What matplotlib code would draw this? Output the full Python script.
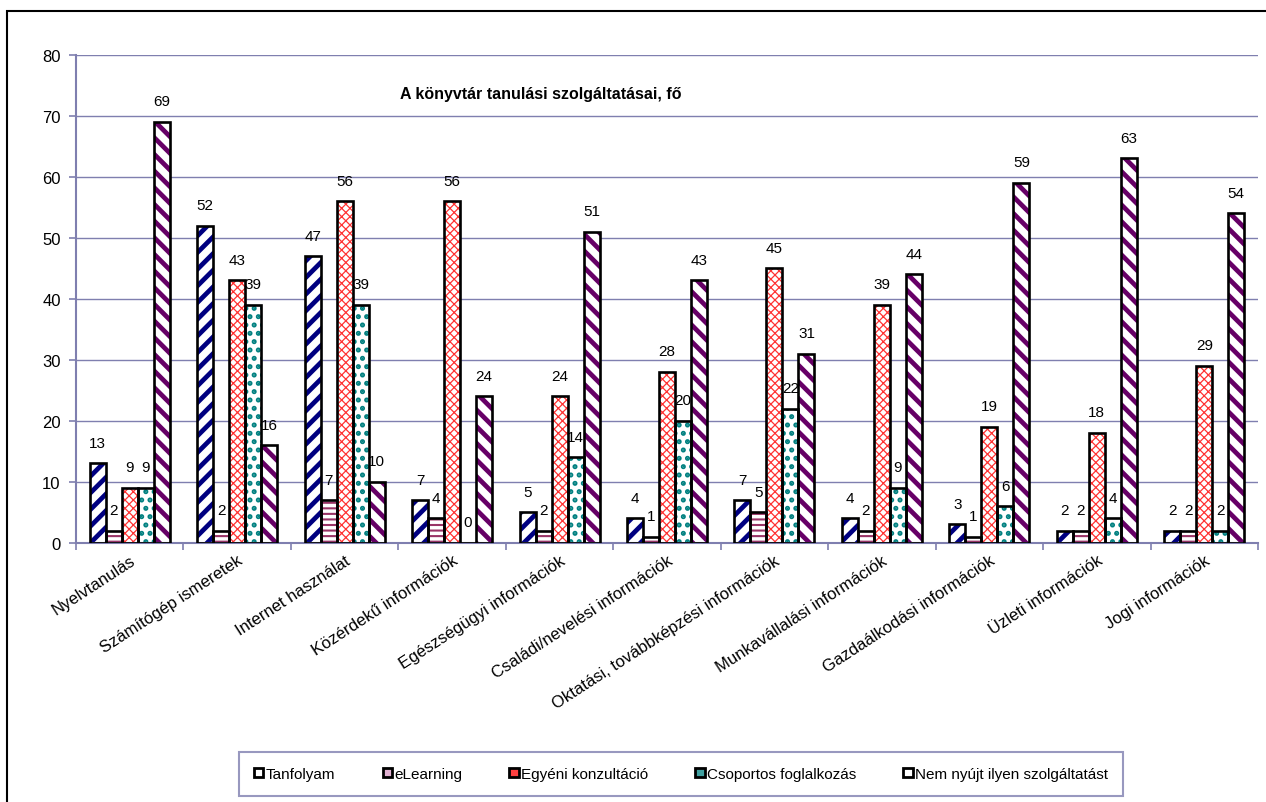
import matplotlib
matplotlib.use('Agg')
import matplotlib.pyplot as plt
from matplotlib.patches import Rectangle, Patch
import numpy as np

plt.rcParams['font.family'] = ['Liberation Sans', 'DejaVu Sans']

#==========================================================
#    DATOS
#==========================================================
categorias = ['Nyelvtanulás', 'Számítógép ismeretek', 'Internet használat',
              'Közérdekű információk', 'Egészségügyi információk',
              'Családi/nevelési információk', 'Oktatási, továbbképzési információk',
              'Munkavállalási információk', 'Gazdaálkodási információk',
              'Üzleti információk', 'Jogi információk']

series_names = ['Tanfolyam', 'eLearning', 'Egyéni konzultáció',
                'Csoportos foglalkozás', 'Nem nyújt ilyen szolgáltatást']

tanfolyam  = [13, 52, 47, 7, 5, 4, 7, 4, 3, 2, 2]
elearning  = [2, 2, 7, 4, 2, 1, 5, 2, 1, 2, 2]
egyeni     = [9, 43, 56, 56, 24, 28, 45, 39, 19, 18, 29]
csoportos  = [9, 39, 39, 0, 14, 20, 22, 9, 6, 4, 2]
nem_nyujt  = [69, 16, 10, 24, 51, 43, 31, 44, 59, 63, 54]

valores = [tanfolyam, elearning, egyeni, csoportos, nem_nyujt]

hatch_col  = ['#000080', '#993366', '#FF3333', '#008080', '#660066']
hatches    = ['//', '---', 'xxxx', '..', '\\\\']
hatch_lw   = [3.4, 1.5, 0.9, 2.4, 3.4]
legend_fc  = ['white', '#E0B0D0', '#FF4040', '#40A0A0', 'white']

grid_col = '#7F7FAF'

#==========================================================
#    FIGURA
#==========================================================
fig = plt.figure(figsize=(12.66, 8.03), dpi=100)
ax = fig.add_axes([0.060, 0.3229, 0.9337, 0.6077])

x = np.arange(len(categorias))
w = 0.149

for i, vals in enumerate(valores):
    pos = x + (i - 2) * w
    plt.rcParams['hatch.linewidth'] = hatch_lw[i]
    bars = ax.bar(pos, vals, w, color='white', edgecolor=hatch_col[i],
                  hatch=hatches[i], linewidth=0, zorder=2)
    for b in bars:
        if hasattr(b, 'set_hatch_linewidth'):
            b.set_hatch_linewidth(hatch_lw[i])
    ax.bar(pos, vals, w, fill=False, edgecolor='black', linewidth=1.9, zorder=3)
    for p, v in zip(pos, vals):
        ax.text(p, v + 2.2, str(v), ha='center', va='bottom', fontsize=11, zorder=4)

ax.set_xlim(-0.5, len(categorias) - 0.5)
ax.set_ylim(0, 80)
ax.set_yticks(np.arange(0, 81, 10))
ax.yaxis.grid(True, color=grid_col, linewidth=1)
ax.set_axisbelow(True)

ax.set_xticks(x)
ax.set_xticklabels(categorias, rotation=33, ha='right', rotation_mode='anchor', fontsize=12)
ax.set_xticks(np.arange(-0.5, len(categorias)), minor=True)
ax.tick_params(axis='x', which='major', length=0, pad=7)
ax.tick_params(axis='x', which='minor', length=5, color=grid_col, width=1.2)
ax.tick_params(axis='y', length=5, color=grid_col, width=1.2, labelsize=12, pad=6)

for s in ['top', 'right']:
    ax.spines[s].set_visible(False)
for s in ['left', 'bottom']:
    ax.spines[s].set_color(grid_col)
    ax.spines[s].set_linewidth(1.5)

ax.text(0.393, 73.6, 'A könyvtár tanulási szolgáltatásai, fő', transform=ax.get_yaxis_transform(),
        ha='center', va='center', fontsize=11.5, fontweight='bold')

handles = [Patch(facecolor=legend_fc[i], edgecolor='black', linewidth=2) for i in range(5)]
leg = fig.legend(handles, series_names, loc='center', bbox_to_anchor=(0.538, 0.035), ncol=5,
                 fontsize=11, frameon=True, fancybox=False, handlelength=0.6, handleheight=0.6,
                 handletextpad=0.15, columnspacing=3.1, borderpad=1.0)
leg.get_frame().set_edgecolor(grid_col)
leg.get_frame().set_linewidth(1.5)

fig.patches.append(Rectangle((0.0055, -0.05), 1.1, 1.035, transform=fig.transFigure,
                             fill=False, edgecolor='black', linewidth=1.5))

plt.savefig('out.png', dpi=100)
